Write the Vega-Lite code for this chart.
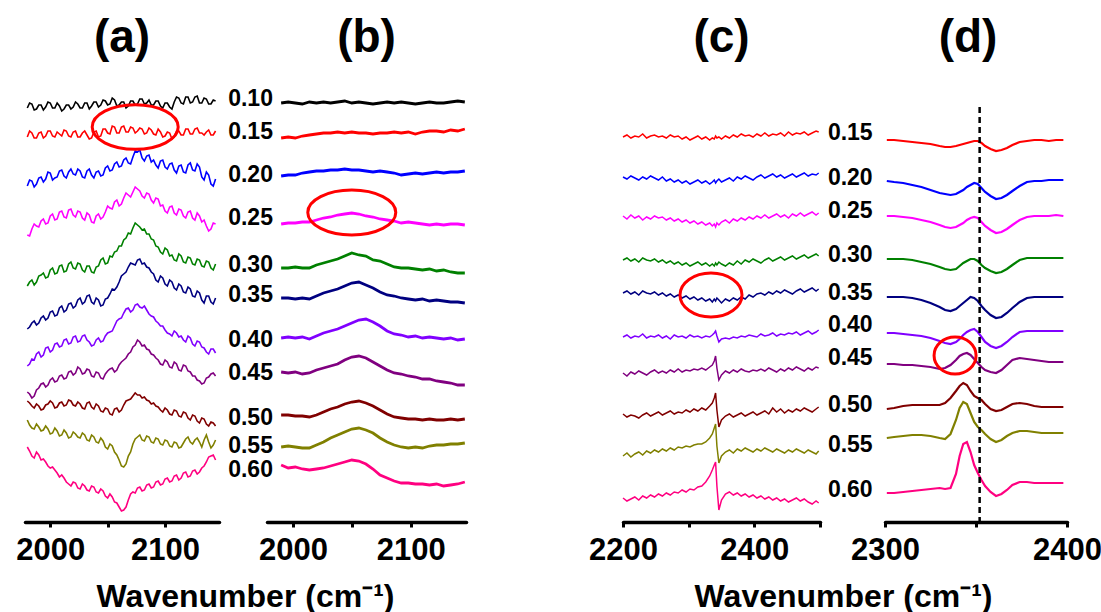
{
"$schema":"https://vega.github.io/schema/vega-lite/v6.json",
"autosize":{"type":"pad"},
"padding":{"left":15,"top":15,"right":5,"bottom":0},
"background":"white",
"config":{"view":{"stroke":null},
"axis":{"domainColor":"#000","domainWidth":3.5,"domainCap":"round","tickColor":"#000","tickWidth":3,"tickSize":5,"labelFont":"Liberation Sans","labelFontSize":31,"labelFontWeight":"bold","labelColor":"#000","labelPadding":8,"grid":false,"labelFlush":false,"labelOverlap":false,"titleFont":"Liberation Sans","titleFontSize":32,"titleFontWeight":"bold","titleColor":"#000"},
"title":{"font":"Liberation Sans","fontSize":46,"fontWeight":"bold","color":"#000","anchor":"middle","baseline":"alphabetic","offset":13}},
"datasets":{
"a":[
{"x":1980,"s10":414,"s15":385,"s20":336,"s25":287,"s30":236,"s35":193,"s40":156,"s45":130,"s50":121,"s55":102,"s60":75},
{"x":1984,"s10":418,"s15":389,"s20":341,"s25":293,"s30":242,"s35":199,"s40":163,"s45":124,"s50":116,"s55":94,"s60":66},
{"x":1988,"s10":413,"s15":384,"s20":338,"s25":296,"s30":240,"s35":197,"s40":168,"s45":132,"s50":118,"s55":98,"s60":70},
{"x":1992,"s10":417,"s15":390,"s20":345,"s25":301,"s30":247,"s35":204,"s40":165,"s45":138,"s50":112,"s55":91,"s60":62},
{"x":1996,"s10":415,"s15":386,"s20":343,"s25":298,"s30":244,"s35":202,"s40":174,"s45":135,"s50":117,"s55":96,"s60":60},
{"x":2000,"s10":419,"s15":391,"s20":349,"s25":306,"s30":252,"s35":210,"s40":170,"s45":142,"s50":121,"s55":88,"s60":54},
{"x":2004,"s10":414,"s15":385,"s20":344,"s25":302,"s30":248,"s35":206,"s40":178,"s45":140,"s50":114,"s55":94,"s60":52},
{"x":2008,"s10":416,"s15":388,"s20":351,"s25":310,"s30":256,"s35":214,"s40":175,"s45":146,"s50":119,"s55":86,"s60":45},
{"x":2012,"s10":413,"s15":392,"s20":346,"s25":305,"s30":250,"s35":210,"s40":182,"s45":143,"s50":116,"s55":92,"s60":44},
{"x":2016,"s10":417,"s15":386,"s20":350,"s25":312,"s30":258,"s35":218,"s40":178,"s45":150,"s50":122,"s55":84,"s60":38},
{"x":2020,"s10":415,"s15":390,"s20":348,"s25":307,"s30":254,"s35":214,"s40":185,"s45":147,"s50":117,"s55":90,"s60":40},
{"x":2024,"s10":418,"s15":385,"s20":353,"s25":311,"s30":259,"s35":222,"s40":180,"s45":155,"s50":120,"s55":85,"s60":34},
{"x":2028,"s10":414,"s15":389,"s20":345,"s25":304,"s30":252,"s35":218,"s40":186,"s45":148,"s50":114,"s55":89,"s60":38},
{"x":2032,"s10":419,"s15":387,"s20":351,"s25":309,"s30":256,"s35":226,"s40":182,"s45":153,"s50":119,"s55":82,"s60":32},
{"x":2036,"s10":416,"s15":384,"s20":347,"s25":300,"s30":250,"s35":220,"s40":176,"s45":146,"s50":115,"s55":87,"s60":36},
{"x":2040,"s10":420,"s15":391,"s20":350,"s25":306,"s30":255,"s35":224,"s40":182,"s45":150,"s50":118,"s55":80,"s60":30},
{"x":2044,"s10":417,"s15":386,"s20":346,"s25":303,"s30":262,"s35":216,"s40":180,"s45":144,"s50":111,"s55":84,"s60":33},
{"x":2048,"s10":421,"s15":393,"s20":354,"s25":310,"s30":258,"s35":223,"s40":186,"s45":148,"s50":114,"s55":75,"s60":26},
{"x":2052,"s10":418,"s15":388,"s20":351,"s25":314,"s30":266,"s35":228,"s40":190,"s45":153,"s50":108,"s55":78,"s60":28},
{"x":2056,"s10":422,"s15":395,"s20":358,"s25":320,"s30":270,"s35":232,"s40":196,"s45":150,"s50":113,"s55":70,"s60":20},
{"x":2060,"s10":417,"s15":389,"s20":355,"s25":316,"s30":276,"s35":240,"s40":203,"s45":157,"s50":110,"s55":62,"s60":15},
{"x":2064,"s10":420,"s15":396,"s20":362,"s25":324,"s30":282,"s35":248,"s40":209,"s45":162,"s50":117,"s55":55,"s60":12},
{"x":2068,"s10":416,"s15":390,"s20":359,"s25":327,"s30":289,"s35":255,"s40":214,"s45":168,"s50":122,"s55":66,"s60":22},
{"x":2072,"s10":421,"s15":394,"s20":365,"s25":330,"s30":294,"s35":258,"s40":212,"s45":175,"s50":126,"s55":78,"s60":30},
{"x":2076,"s10":418,"s15":391,"s20":370,"s25":333,"s30":297,"s35":262,"s40":218,"s45":182,"s50":127,"s55":85,"s60":34},
{"x":2080,"s10":423,"s15":393,"s20":364,"s25":326,"s30":292,"s35":258,"s40":214,"s45":176,"s50":124,"s55":82,"s60":31},
{"x":2084,"s10":419,"s15":389,"s20":366,"s25":329,"s30":288,"s35":255,"s40":212,"s45":173,"s50":122,"s55":86,"s60":37},
{"x":2088,"s10":417,"s15":392,"s20":360,"s25":322,"s30":283,"s35":250,"s40":206,"s45":168,"s50":118,"s55":80,"s60":34},
{"x":2092,"s10":421,"s15":387,"s20":357,"s25":324,"s30":276,"s35":242,"s40":201,"s45":164,"s50":116,"s55":84,"s60":40},
{"x":2096,"s10":416,"s15":390,"s20":361,"s25":316,"s30":270,"s35":246,"s40":196,"s45":158,"s50":112,"s55":78,"s60":37},
{"x":2100,"s10":419,"s15":386,"s20":355,"s25":311,"s30":274,"s35":238,"s40":192,"s45":162,"s50":114,"s55":82,"s60":43},
{"x":2104,"s10":415,"s15":389,"s20":358,"s25":315,"s30":266,"s35":242,"s40":188,"s45":155,"s50":108,"s55":76,"s60":40},
{"x":2108,"s10":420,"s15":385,"s20":352,"s25":309,"s30":262,"s35":234,"s40":191,"s45":160,"s50":112,"s55":80,"s60":46},
{"x":2112,"s10":424,"s15":391,"s20":356,"s25":313,"s30":268,"s35":238,"s40":185,"s45":152,"s50":106,"s55":74,"s60":42},
{"x":2116,"s10":418,"s15":387,"s20":350,"s25":306,"s30":260,"s35":230,"s40":182,"s45":157,"s50":110,"s55":79,"s60":49},
{"x":2120,"s10":425,"s15":393,"s20":357,"s25":310,"s30":265,"s35":235,"s40":186,"s45":151,"s50":104,"s55":85,"s60":45},
{"x":2124,"s10":420,"s15":388,"s20":352,"s25":304,"s30":258,"s35":226,"s40":178,"s45":146,"s50":107,"s55":78,"s60":51},
{"x":2128,"s10":426,"s15":394,"s20":358,"s25":309,"s30":263,"s35":231,"s40":181,"s45":142,"s50":101,"s55":84,"s60":48},
{"x":2132,"s10":419,"s15":389,"s20":345,"s25":300,"s30":256,"s35":222,"s40":175,"s45":138,"s50":104,"s55":75,"s60":54},
{"x":2136,"s10":423,"s15":390,"s20":350,"s25":296,"s30":261,"s35":226,"s40":170,"s45":144,"s50":98,"s55":87,"s60":60},
{"x":2140,"s10":418,"s15":387,"s20":338,"s25":293,"s30":254,"s35":220,"s40":173,"s45":148,"s50":100,"s55":74,"s60":66},
{"x":2144,"s10":421,"s15":391,"s20":343,"s25":298,"s30":258,"s35":224,"s40":169,"s45":146,"s50":96,"s55":82,"s60":62},
{"x":1982,"s10":419,"s15":391,"s20":342,"s25":286,"s30":240,"s35":195,"s40":158,"s45":128,"s50":119,"s55":97,"s60":71},
{"x":1986,"s10":412,"s15":384,"s20":335,"s25":298,"s30":237,"s35":201,"s40":162,"s45":126,"s50":114,"s55":93,"s60":64},
{"x":1990,"s10":417,"s15":389,"s20":344,"s25":295,"s30":246,"s35":199,"s40":170,"s45":134,"s50":116,"s55":95,"s60":67},
{"x":1994,"s10":412,"s15":384,"s20":340,"s25":303,"s30":249,"s35":206,"s40":167,"s45":139,"s50":113,"s55":92,"s60":63},
{"x":1998,"s10":420,"s15":391,"s20":350,"s25":299,"s30":245,"s35":204,"s40":175,"s45":137,"s50":118,"s55":93,"s60":56},
{"x":2002,"s10":414,"s15":386,"s20":342,"s25":308,"s30":254,"s35":211,"s40":172,"s45":144,"s50":119,"s55":89,"s60":55},
{"x":2006,"s10":419,"s15":390,"s20":345,"s25":303,"s30":249,"s35":207,"s40":179,"s45":141,"s50":115,"s55":91,"s60":49},
{"x":2010,"s10":411,"s15":386,"s20":352,"s25":311,"s30":257,"s35":216,"s40":176,"s45":147,"s50":120,"s55":87,"s60":47},
{"x":2014,"s10":417,"s15":391,"s20":344,"s25":304,"s30":251,"s35":212,"s40":183,"s45":144,"s50":117,"s55":89,"s60":40},
{"x":2018,"s10":413,"s15":385,"s20":353,"s25":313,"s30":260,"s35":219,"s40":179,"s45":151,"s50":121,"s55":85,"s60":36},
{"x":2022,"s10":420,"s15":391,"s20":347,"s25":305,"s30":253,"s35":216,"s40":186,"s45":149,"s50":116,"s55":88,"s60":39},
{"x":2026,"s10":414,"s15":385,"s20":351,"s25":310,"s30":258,"s35":224,"s40":181,"s45":153,"s50":118,"s55":84,"s60":33},
{"x":2030,"s10":419,"s15":391,"s20":344,"s25":302,"s30":250,"s35":220,"s40":187,"s45":149,"s50":113,"s55":87,"s60":36},
{"x":2034,"s10":413,"s15":383,"s20":353,"s25":307,"s30":256,"s35":227,"s40":180,"s45":152,"s50":120,"s55":81,"s60":31},
{"x":2038,"s10":420,"s15":390,"s20":344,"s25":299,"s30":249,"s35":218,"s40":177,"s45":145,"s50":113,"s55":85,"s60":35},
{"x":2042,"s10":415,"s15":385,"s20":351,"s25":308,"s30":256,"s35":222,"s40":184,"s45":149,"s50":116,"s55":79,"s60":29},
{"x":2046,"s10":422,"s15":393,"s20":347,"s25":305,"s30":264,"s35":217,"s40":181,"s45":143,"s50":110,"s55":81,"s60":31},
{"x":2050,"s10":417,"s15":389,"s20":356,"s25":316,"s30":259,"s35":224,"s40":189,"s45":151,"s50":113,"s55":73,"s60":24},
{"x":2054,"s10":424,"s15":396,"s20":352,"s25":313,"s30":265,"s35":233,"s40":191,"s45":154,"s50":107,"s55":76,"s60":25},
{"x":2058,"s10":416,"s15":389,"s20":360,"s25":322,"s30":271,"s35":235,"s40":201,"s45":152,"s50":114,"s55":67,"s60":19},
{"x":2062,"s10":420,"s15":395,"s20":356,"s25":318,"s30":276,"s35":246,"s40":204,"s45":160,"s50":112,"s55":56,"s60":11},
{"x":2066,"s10":414,"s15":390,"s20":364,"s25":329,"s30":284,"s35":250,"s40":213,"s45":164,"s50":121,"s55":58,"s60":15},
{"x":2070,"s10":421,"s15":395,"s20":358,"s25":325,"s30":288,"s35":259,"s40":210,"s45":170,"s50":123,"s55":70,"s60":28},
{"x":2074,"s10":417,"s15":389,"s20":371,"s25":335,"s30":299,"s35":257,"s40":217,"s45":177,"s50":129,"s55":83,"s60":29},
{"x":2078,"s10":423,"s15":394,"s20":372,"s25":331,"s30":295,"s35":263,"s40":215,"s45":180,"s50":127,"s55":87,"s60":35},
{"x":2082,"s10":418,"s15":388,"s20":361,"s25":324,"s30":293,"s35":259,"s40":216,"s45":177,"s50":125,"s55":81,"s60":32},
{"x":2086,"s10":422,"s15":394,"s20":367,"s25":328,"s30":288,"s35":254,"s40":208,"s45":172,"s50":121,"s55":85,"s60":38},
{"x":2090,"s10":417,"s15":388,"s20":362,"s25":319,"s30":282,"s35":248,"s40":205,"s45":167,"s50":119,"s55":79,"s60":35},
{"x":2094,"s10":421,"s15":393,"s20":354,"s25":323,"s30":275,"s35":240,"s40":199,"s45":162,"s50":115,"s55":83,"s60":41},
{"x":2098,"s10":414,"s15":385,"s20":362,"s25":317,"s30":268,"s35":244,"s40":196,"s45":157,"s50":110,"s55":77,"s60":38},
{"x":2102,"s10":419,"s15":390,"s20":353,"s25":309,"s30":272,"s35":236,"s40":189,"s45":160,"s50":112,"s55":81,"s60":44},
{"x":2106,"s10":413,"s15":383,"s20":359,"s25":316,"s30":267,"s35":240,"s40":186,"s45":154,"s50":107,"s55":75,"s60":41},
{"x":2110,"s10":425,"s15":391,"s20":349,"s25":307,"s30":261,"s35":232,"s40":189,"s45":158,"s50":111,"s55":79,"s60":47},
{"x":2114,"s10":419,"s15":387,"s20":357,"s25":312,"s30":266,"s35":236,"s40":186,"s45":151,"s50":105,"s55":75,"s60":44},
{"x":2118,"s10":425,"s15":393,"s20":349,"s25":304,"s30":259,"s35":229,"s40":180,"s45":156,"s50":109,"s55":83,"s60":50},
{"x":2122,"s10":419,"s15":388,"s20":359,"s25":311,"s30":264,"s35":233,"s40":184,"s45":150,"s50":102,"s55":80,"s60":46},
{"x":2126,"s10":425,"s15":393,"s20":351,"s25":302,"s30":257,"s35":225,"s40":176,"s45":146,"s50":106,"s55":82,"s60":52},
{"x":2130,"s10":419,"s15":389,"s20":355,"s25":306,"s30":262,"s35":229,"s40":180,"s45":141,"s50":99,"s55":80,"s60":50},
{"x":2134,"s10":424,"s15":387,"s20":342,"s25":302,"s30":255,"s35":219,"s40":174,"s45":139,"s50":103,"s55":82,"s60":56},
{"x":2138,"s10":418,"s15":392,"s20":347,"s25":291,"s30":260,"s35":226,"s40":168,"s45":145,"s50":96,"s55":80,"s60":65},
{"x":2142,"s10":422,"s15":387,"s20":336,"s25":299,"s30":252,"s35":218,"s40":173,"s45":149,"s50":99,"s55":77,"s60":67}
],
"b":[
{"x":1990,"s10":419,"s15":384,"s20":346,"s25":298,"s30":254,"s35":224,"s40":184,"s45":150,"s50":107,"s55":75,"s60":57},
{"x":1996,"s10":420,"s15":385,"s20":347,"s25":299,"s30":254,"s35":224,"s40":185,"s45":149,"s50":107,"s55":76,"s60":54},
{"x":2002,"s10":419,"s15":384,"s20":347,"s25":299,"s30":255,"s35":223,"s40":184,"s45":150,"s50":106,"s55":75,"s60":55},
{"x":2008,"s10":418,"s15":386,"s20":349,"s25":300,"s30":254,"s35":224,"s40":185,"s45":148,"s50":106,"s55":74,"s60":53},
{"x":2014,"s10":420,"s15":387,"s20":350,"s25":300,"s30":254,"s35":223,"s40":183,"s45":149,"s50":105,"s55":74,"s60":52},
{"x":2020,"s10":419,"s15":388,"s20":351,"s25":302,"s30":257,"s35":226,"s40":186,"s45":152,"s50":107,"s55":77,"s60":53},
{"x":2026,"s10":420,"s15":389,"s20":351,"s25":304,"s30":259,"s35":229,"s40":189,"s45":154,"s50":110,"s55":80,"s60":54},
{"x":2032,"s10":419,"s15":389,"s20":352,"s25":305,"s30":261,"s35":231,"s40":191,"s45":156,"s50":113,"s55":84,"s60":56},
{"x":2038,"s10":420,"s15":390,"s20":352,"s25":307,"s30":263,"s35":233,"s40":193,"s45":158,"s50":115,"s55":87,"s60":58},
{"x":2044,"s10":421,"s15":389,"s20":353,"s25":308,"s30":266,"s35":236,"s40":196,"s45":162,"s50":118,"s55":90,"s60":60},
{"x":2050,"s10":419,"s15":390,"s20":352,"s25":309,"s30":269,"s35":239,"s40":199,"s45":165,"s50":120,"s55":93,"s60":62},
{"x":2056,"s10":420,"s15":389,"s20":352,"s25":308,"s30":267,"s35":240,"s40":202,"s45":166,"s50":121,"s55":94,"s60":61},
{"x":2062,"s10":419,"s15":389,"s20":351,"s25":306,"s30":266,"s35":237,"s40":203,"s45":164,"s50":119,"s55":92,"s60":58},
{"x":2068,"s10":418,"s15":388,"s20":350,"s25":305,"s30":262,"s35":234,"s40":200,"s45":160,"s50":116,"s55":89,"s60":53},
{"x":2074,"s10":419,"s15":389,"s20":351,"s25":303,"s30":261,"s35":230,"s40":196,"s45":156,"s50":112,"s55":84,"s60":47},
{"x":2080,"s10":420,"s15":389,"s20":350,"s25":302,"s30":258,"s35":227,"s40":191,"s45":152,"s50":108,"s55":80,"s60":44},
{"x":2086,"s10":419,"s15":390,"s20":349,"s25":301,"s30":255,"s35":226,"s40":188,"s45":149,"s50":105,"s55":77,"s60":41},
{"x":2092,"s10":420,"s15":389,"s20":347,"s25":299,"s30":254,"s35":224,"s40":187,"s45":148,"s50":104,"s55":75,"s60":39},
{"x":2098,"s10":419,"s15":390,"s20":348,"s25":300,"s30":254,"s35":223,"s40":185,"s45":146,"s50":103,"s55":74,"s60":39},
{"x":2104,"s10":418,"s15":388,"s20":349,"s25":299,"s30":253,"s35":222,"s40":186,"s45":145,"s50":103,"s55":75,"s60":38},
{"x":2110,"s10":419,"s15":390,"s20":348,"s25":298,"s30":252,"s35":223,"s40":184,"s45":143,"s50":102,"s55":74,"s60":38},
{"x":2116,"s10":420,"s15":391,"s20":349,"s25":297,"s30":253,"s35":221,"s40":185,"s45":143,"s50":103,"s55":76,"s60":37},
{"x":2122,"s10":419,"s15":391,"s20":350,"s25":298,"s30":251,"s35":222,"s40":184,"s45":141,"s50":102,"s55":77,"s60":38},
{"x":2128,"s10":419,"s15":390,"s20":349,"s25":297,"s30":252,"s35":221,"s40":183,"s45":140,"s50":102,"s55":77,"s60":36},
{"x":2134,"s10":420,"s15":392,"s20":350,"s25":298,"s30":250,"s35":220,"s40":184,"s45":139,"s50":103,"s55":78,"s60":37},
{"x":2140,"s10":421,"s15":391,"s20":350,"s25":298,"s30":249,"s35":220,"s40":182,"s45":137,"s50":102,"s55":78,"s60":38},
{"x":2146,"s10":420,"s15":393,"s20":351,"s25":297,"s30":249,"s35":219,"s40":183,"s45":137,"s50":103,"s55":79,"s60":40}
],
"c":[
{"x":2200,"s15":385,"s20":345,"s25":306,"s30":262,"s35":229,"s40":185,"s45":149,"s50":108,"s55":66,"s60":24},
{"x":2206,"s15":387,"s20":343,"s25":303,"s30":264,"s35":231,"s40":187,"s45":146,"s50":105,"s55":69,"s60":21},
{"x":2212,"s15":384,"s20":346,"s25":307,"s30":261,"s35":228,"s40":184,"s45":150,"s50":107,"s55":65,"s60":23},
{"x":2218,"s15":386,"s20":344,"s25":304,"s30":263,"s35":230,"s40":186,"s45":148,"s50":106,"s55":68,"s60":25},
{"x":2224,"s15":385,"s20":342,"s25":306,"s30":260,"s35":227,"s40":185,"s45":151,"s50":104,"s55":70,"s60":22},
{"x":2230,"s15":388,"s20":345,"s25":302,"s30":264,"s35":231,"s40":188,"s45":149,"s50":107,"s55":67,"s60":26},
{"x":2236,"s15":384,"s20":343,"s25":305,"s30":262,"s35":229,"s40":184,"s45":147,"s50":109,"s55":71,"s60":24},
{"x":2242,"s15":386,"s20":346,"s25":303,"s30":261,"s35":228,"s40":186,"s45":150,"s50":106,"s55":69,"s60":27},
{"x":2248,"s15":387,"s20":344,"s25":306,"s30":263,"s35":230,"s40":185,"s45":152,"s50":108,"s55":72,"s60":25},
{"x":2254,"s15":385,"s20":342,"s25":304,"s30":260,"s35":227,"s40":187,"s45":149,"s50":110,"s55":70,"s60":28},
{"x":2260,"s15":386,"s20":345,"s25":305,"s30":262,"s35":229,"s40":184,"s45":151,"s50":107,"s55":73,"s60":26},
{"x":2266,"s15":384,"s20":341,"s25":302,"s30":259,"s35":226,"s40":186,"s45":149,"s50":109,"s55":71,"s60":29},
{"x":2272,"s15":387,"s20":343,"s25":304,"s30":261,"s35":228,"s40":183,"s45":152,"s50":111,"s55":74,"s60":27},
{"x":2278,"s15":385,"s20":340,"s25":301,"s30":258,"s35":225,"s40":187,"s45":150,"s50":108,"s55":72,"s60":30},
{"x":2284,"s15":386,"s20":342,"s25":303,"s30":260,"s35":227,"s40":185,"s45":153,"s50":110,"s55":75,"s60":29},
{"x":2290,"s15":383,"s20":339,"s25":300,"s30":257,"s35":224,"s40":186,"s45":150,"s50":109,"s55":74,"s60":32},
{"x":2296,"s15":385,"s20":341,"s25":302,"s30":259,"s35":226,"s40":184,"s45":152,"s50":112,"s55":76,"s60":30},
{"x":2302,"s15":382,"s20":338,"s25":299,"s30":256,"s35":223,"s40":187,"s45":151,"s50":110,"s55":75,"s60":33},
{"x":2308,"s15":384,"s20":340,"s25":301,"s30":258,"s35":225,"s40":185,"s45":153,"s50":113,"s55":77,"s60":32},
{"x":2314,"s15":386,"s20":342,"s25":298,"s30":260,"s35":222,"s40":186,"s45":152,"s50":111,"s55":78,"s60":35},
{"x":2320,"s15":383,"s20":339,"s25":300,"s30":257,"s35":224,"s40":184,"s45":154,"s50":114,"s55":78,"s60":36},
{"x":2326,"s15":385,"s20":341,"s25":297,"s30":259,"s35":221,"s40":186,"s45":152,"s50":112,"s55":80,"s60":40},
{"x":2332,"s15":382,"s20":338,"s25":299,"s30":256,"s35":223,"s40":185,"s45":155,"s50":116,"s55":84,"s60":46},
{"x":2336,"s15":384,"s20":340,"s25":296,"s30":258,"s35":220,"s40":187,"s45":157,"s50":119,"s55":88,"s60":52},
{"x":2339,"s15":383,"s20":342,"s25":298,"s30":256,"s35":223,"s40":189,"s45":161,"s50":124,"s55":94,"s60":57},
{"x":2341,"s15":386,"s20":339,"s25":295,"s30":259,"s35":221,"s40":191,"s45":166,"s50":129,"s55":98,"s60":60},
{"x":2343,"s15":384,"s20":341,"s25":299,"s30":257,"s35":224,"s40":186,"s45":154,"s50":112,"s55":76,"s60":36},
{"x":2346,"s15":385,"s20":343,"s25":297,"s30":260,"s35":222,"s40":180,"s45":142,"s50":95,"s55":59,"s60":12},
{"x":2350,"s15":383,"s20":340,"s25":300,"s30":258,"s35":219,"s40":183,"s45":147,"s50":102,"s55":66,"s60":22},
{"x":2356,"s15":386,"s20":342,"s25":302,"s30":256,"s35":223,"s40":184,"s45":151,"s50":106,"s55":70,"s60":28},
{"x":2362,"s15":384,"s20":344,"s25":299,"s30":259,"s35":221,"s40":183,"s45":149,"s50":108,"s55":72,"s60":30},
{"x":2368,"s15":387,"s20":341,"s25":303,"s30":257,"s35":224,"s40":185,"s45":152,"s50":105,"s55":69,"s60":27},
{"x":2374,"s15":385,"s20":345,"s25":301,"s30":261,"s35":222,"s40":184,"s45":150,"s50":107,"s55":73,"s60":29},
{"x":2380,"s15":388,"s20":343,"s25":304,"s30":258,"s35":225,"s40":186,"s45":153,"s50":109,"s55":71,"s60":26},
{"x":2386,"s15":386,"s20":346,"s25":302,"s30":262,"s35":223,"s40":185,"s45":151,"s50":106,"s55":74,"s60":28},
{"x":2392,"s15":387,"s20":344,"s25":305,"s30":260,"s35":227,"s40":187,"s45":150,"s50":108,"s55":72,"s60":25},
{"x":2398,"s15":385,"s20":342,"s25":303,"s30":263,"s35":225,"s40":186,"s45":152,"s50":110,"s55":70,"s60":27},
{"x":2404,"s15":388,"s20":345,"s25":306,"s30":261,"s35":228,"s40":185,"s45":151,"s50":107,"s55":73,"s60":24},
{"x":2410,"s15":386,"s20":347,"s25":304,"s30":259,"s35":229,"s40":188,"s45":153,"s50":109,"s55":71,"s60":26},
{"x":2416,"s15":389,"s20":344,"s25":307,"s30":262,"s35":227,"s40":186,"s45":151,"s50":111,"s55":74,"s60":23},
{"x":2422,"s15":386,"s20":346,"s25":304,"s30":264,"s35":230,"s40":187,"s45":154,"s50":108,"s55":72,"s60":25},
{"x":2428,"s15":388,"s20":348,"s25":306,"s30":261,"s35":228,"s40":189,"s45":152,"s50":114,"s55":70,"s60":22},
{"x":2434,"s15":387,"s20":345,"s25":308,"s30":263,"s35":231,"s40":186,"s45":150,"s50":110,"s55":73,"s60":24},
{"x":2440,"s15":389,"s20":347,"s25":305,"s30":265,"s35":229,"s40":188,"s45":153,"s50":113,"s55":71,"s60":21},
{"x":2446,"s15":386,"s20":344,"s25":307,"s30":262,"s35":232,"s40":187,"s45":151,"s50":109,"s55":69,"s60":23},
{"x":2452,"s15":390,"s20":346,"s25":304,"s30":264,"s35":230,"s40":189,"s45":154,"s50":112,"s55":72,"s60":20},
{"x":2458,"s15":387,"s20":348,"s25":308,"s30":266,"s35":228,"s40":188,"s45":152,"s50":110,"s55":70,"s60":22},
{"x":2464,"s15":389,"s20":345,"s25":306,"s30":263,"s35":231,"s40":190,"s45":155,"s50":113,"s55":73,"s60":24},
{"x":2470,"s15":388,"s20":347,"s25":309,"s30":265,"s35":233,"s40":187,"s45":153,"s50":111,"s55":71,"s60":21},
{"x":2476,"s15":390,"s20":349,"s25":306,"s30":267,"s35":230,"s40":189,"s45":151,"s50":114,"s55":69,"s60":23},
{"x":2482,"s15":387,"s20":346,"s25":308,"s30":264,"s35":232,"s40":191,"s45":154,"s50":112,"s55":72,"s60":20},
{"x":2488,"s15":389,"s20":348,"s25":310,"s30":266,"s35":234,"s40":188,"s45":152,"s50":110,"s55":70,"s60":18},
{"x":2494,"s15":391,"s20":347,"s25":307,"s30":268,"s35":231,"s40":190,"s45":155,"s50":113,"s55":68,"s60":21},
{"x":2498,"s15":390,"s20":349,"s25":309,"s30":266,"s35":233,"s40":192,"s45":154,"s50":115,"s55":71,"s60":19}
],
"d":[
{"x":2301,"s15":382,"s20":341,"s25":306,"s30":263,"s35":225,"s40":189,"s45":158,"s50":113,"s55":84,"s60":29},
{"x":2305,"s15":382,"s20":340,"s25":306,"s30":263,"s35":225,"s40":189,"s45":158,"s50":114,"s55":85,"s60":29},
{"x":2310,"s15":381,"s20":339,"s25":305,"s30":263,"s35":225,"s40":188,"s45":157,"s50":116,"s55":86,"s60":30},
{"x":2315,"s15":380,"s20":337,"s25":304,"s30":262,"s35":224,"s40":187,"s45":157,"s50":117,"s55":87,"s60":31},
{"x":2320,"s15":379,"s20":335,"s25":302,"s30":260,"s35":222,"s40":186,"s45":156,"s50":117,"s55":87,"s60":32},
{"x":2325,"s15":378,"s20":332,"s25":300,"s30":258,"s35":219,"s40":184,"s45":155,"s50":117,"s55":86,"s60":33},
{"x":2330,"s15":376,"s20":329,"s25":297,"s30":255,"s35":215,"s40":181,"s45":153,"s50":117,"s55":84,"s60":34},
{"x":2333,"s15":375,"s20":328,"s25":295,"s30":253,"s35":212,"s40":179,"s45":154,"s50":119,"s55":83,"s60":33},
{"x":2336,"s15":375,"s20":327,"s25":294,"s30":252,"s35":211,"s40":178,"s45":157,"s50":124,"s55":88,"s60":34},
{"x":2339,"s15":376,"s20":328,"s25":295,"s30":253,"s35":213,"s40":180,"s45":162,"s50":131,"s55":102,"s60":48},
{"x":2341,"s15":377,"s20":330,"s25":297,"s30":256,"s35":216,"s40":183,"s45":166,"s50":136,"s55":114,"s60":66},
{"x":2343,"s15":378,"s20":332,"s25":299,"s30":259,"s35":219,"s40":187,"s45":168,"s50":139,"s55":120,"s60":78},
{"x":2345,"s15":379,"s20":335,"s25":302,"s30":261,"s35":222,"s40":190,"s45":169,"s50":137,"s55":118,"s60":80},
{"x":2347,"s15":380,"s20":337,"s25":304,"s30":263,"s35":225,"s40":192,"s45":167,"s50":131,"s55":109,"s60":70},
{"x":2349,"s15":381,"s20":339,"s25":305,"s30":263,"s35":224,"s40":193,"s45":163,"s50":126,"s55":100,"s60":57},
{"x":2351,"s15":381,"s20":338,"s25":304,"s30":261,"s35":221,"s40":190,"s45":159,"s50":124,"s55":95,"s60":49},
{"x":2353,"s15":379,"s20":334,"s25":300,"s30":257,"s35":216,"s40":185,"s45":155,"s50":122,"s55":92,"s60":42},
{"x":2355,"s15":376,"s20":330,"s25":296,"s30":254,"s35":212,"s40":180,"s45":152,"s50":118,"s55":88,"s60":36},
{"x":2358,"s15":373,"s20":326,"s25":292,"s30":251,"s35":207,"s40":176,"s45":150,"s50":113,"s55":83,"s60":30},
{"x":2361,"s15":371,"s20":323,"s25":289,"s30":249,"s35":204,"s40":174,"s45":149,"s50":111,"s55":80,"s60":26},
{"x":2364,"s15":372,"s20":324,"s25":290,"s30":250,"s35":205,"s40":176,"s45":152,"s50":112,"s55":82,"s60":28},
{"x":2367,"s15":374,"s20":327,"s25":293,"s30":253,"s35":209,"s40":180,"s45":157,"s50":115,"s55":86,"s60":32},
{"x":2370,"s15":377,"s20":331,"s25":297,"s30":257,"s35":214,"s40":185,"s45":162,"s50":118,"s55":89,"s60":37},
{"x":2374,"s15":380,"s20":336,"s25":302,"s30":262,"s35":220,"s40":190,"s45":164,"s50":119,"s55":91,"s60":40},
{"x":2378,"s15":381,"s20":340,"s25":305,"s30":264,"s35":224,"s40":191,"s45":163,"s50":118,"s55":91,"s60":40},
{"x":2382,"s15":382,"s20":341,"s25":306,"s30":264,"s35":225,"s40":191,"s45":162,"s50":116,"s55":90,"s60":39},
{"x":2386,"s15":382,"s20":341,"s25":306,"s30":264,"s35":225,"s40":191,"s45":161,"s50":115,"s55":89,"s60":39},
{"x":2390,"s15":381,"s20":342,"s25":306,"s30":264,"s35":225,"s40":191,"s45":160,"s50":115,"s55":89,"s60":39},
{"x":2394,"s15":382,"s20":342,"s25":307,"s30":264,"s35":225,"s40":191,"s45":160,"s50":115,"s55":89,"s60":39},
{"x":2398,"s15":382,"s20":342,"s25":306,"s30":264,"s35":225,"s40":191,"s45":160,"s50":115,"s55":89,"s60":39}
],
"labAB":[{"lab":"0.10","y":423},{"lab":"0.15","y":390},{"lab":"0.20","y":347},{"lab":"0.25","y":304},{"lab":"0.30","y":257},{"lab":"0.35","y":227},{"lab":"0.40","y":182},{"lab":"0.45","y":149},{"lab":"0.50","y":104},{"lab":"0.55","y":76},{"lab":"0.60","y":52}],
"labCD":[{"lab":"0.15","y":389},{"lab":"0.20","y":344},{"lab":"0.25","y":311},{"lab":"0.30","y":267},{"lab":"0.35","y":229},{"lab":"0.40","y":197},{"lab":"0.45","y":164},{"lab":"0.50","y":117},{"lab":"0.55","y":77},{"lab":"0.60","y":32}],
"blank":[{"n":0}]
},
"spacing":0,
"bounds":"flush",
"hconcat":[
{"width":194,"height":447,"title":{"text":"(a)"},
"layer":[
{"data":{"name":"a"},"transform":[{"fold":["s10","s15","s20","s25","s30","s35","s40","s45","s50","s55","s60"],"as":["key","v"]}],
"mark":{"type":"line","strokeWidth":1.6},
"encoding":{"x":{"field":"x","type":"quantitative","scale":{"domain":[1978,2147],"nice":false,"zero":false},"axis":{"values":[2000,2050,2100],"format":"d","labelExpr":"datum.value == 2050 ? '' : datum.label","title":"Wavenumber (cm⁻¹)","titleX":220,"titleY":84,"titleBaseline":"alphabetic"}},
"y":{"field":"v","type":"quantitative","scale":{"domain":[0,447],"nice":false,"zero":false},"axis":null},
"color":{"field":"key","type":"nominal","scale":{"domain":["s10","s15","s20","s25","s30","s35","s40","s45","s50","s55","s60"],"range":["#000000","#ff0000","#0000ff","#ff00ff","#008000","#000080","#8000ff","#800080","#800000","#808000","#ff0080"]},"legend":null}}},
{"data":{"name":"labAB"},"mark":{"type":"text","align":"left","baseline":"middle","fontSize":23,"fontWeight":"bold","font":"Liberation Sans","color":"#000"},
"encoding":{"x":{"datum":2155,"type":"quantitative"},"y":{"field":"y","type":"quantitative"},"text":{"field":"lab"}}},
{"data":{"values":[{"x":2074,"y":395}]},"mark":{"type":"point","shape":"M-1 0A1 0.52 0 1 1 1 0A1 0.52 0 1 1 -1 0Z","size":7396,"filled":false,"stroke":"#ff0000","strokeWidth":3,"opacity":1},
"encoding":{"x":{"field":"x","type":"quantitative"},"y":{"field":"y","type":"quantitative"}}}
]},
{"width":48,"height":447,"data":{"name":"blank"},"mark":{"type":"point","opacity":0},"encoding":{}},
{"width":199,"height":447,"title":{"text":"(b)"},
"layer":[
{"data":{"name":"b"},"transform":[{"fold":["s10","s15","s20","s25","s30","s35","s40","s45","s50","s55","s60"],"as":["key","v"]}],
"mark":{"type":"line","strokeWidth":2.8},
"encoding":{"x":{"field":"x","type":"quantitative","scale":{"domain":[1978,2147],"nice":false,"zero":false},"axis":{"values":[2000,2050,2100],"format":"d","labelExpr":"datum.value == 2050 ? '' : datum.label","title":null}},
"y":{"field":"v","type":"quantitative","scale":{"domain":[0,447],"nice":false,"zero":false},"axis":null},
"color":{"field":"key","type":"nominal","scale":{"domain":["s10","s15","s20","s25","s30","s35","s40","s45","s50","s55","s60"],"range":["#000000","#ff0000","#0000ff","#ff00ff","#008000","#000080","#8000ff","#800080","#800000","#808000","#ff0080"]},"legend":null}}},
{"data":{"values":[{"x":2050,"y":309.5}]},"mark":{"type":"point","shape":"M-1 0A1 0.51 0 1 1 1 0A1 0.51 0 1 1 -1 0Z","size":7744,"filled":false,"stroke":"#ff0000","strokeWidth":3,"opacity":1},
"encoding":{"x":{"field":"x","type":"quantitative"},"y":{"field":"y","type":"quantitative"}}}
]},
{"width":157,"height":447,"data":{"name":"blank"},"mark":{"type":"point","opacity":0},"encoding":{}},
{"width":197,"height":447,"title":{"text":"(c)"},
"layer":[
{"data":{"name":"c"},"transform":[{"fold":["s15","s20","s25","s30","s35","s40","s45","s50","s55","s60"],"as":["key","v"]}],
"mark":{"type":"line","strokeWidth":1.5},
"encoding":{"x":{"field":"x","type":"quantitative","scale":{"domain":[2200,2500],"nice":false,"zero":false},"axis":{"values":[2200,2300,2400,2500],"format":"d","labelExpr":"datum.value == 2300 || datum.value == 2500 ? '' : datum.label","title":"Wavenumber (cm⁻¹)","titleX":220,"titleY":84,"titleBaseline":"alphabetic"}},
"y":{"field":"v","type":"quantitative","scale":{"domain":[0,447],"nice":false,"zero":false},"axis":null},
"color":{"field":"key","type":"nominal","scale":{"domain":["s10","s15","s20","s25","s30","s35","s40","s45","s50","s55","s60"],"range":["#000000","#ff0000","#0000ff","#ff00ff","#008000","#000080","#8000ff","#800080","#800000","#808000","#ff0080"]},"legend":null}}},
{"data":{"name":"labCD"},"mark":{"type":"text","align":"left","baseline":"middle","fontSize":23,"fontWeight":"bold","font":"Liberation Sans","color":"#000"},
"encoding":{"x":{"datum":2512,"type":"quantitative"},"y":{"field":"y","type":"quantitative"},"text":{"field":"lab"}}},
{"data":{"values":[{"x":2334,"y":227}]},"mark":{"type":"point","shape":"M-1 0A1 0.71 0 1 1 1 0A1 0.71 0 1 1 -1 0Z","size":3844,"filled":false,"stroke":"#ff0000","strokeWidth":3,"opacity":1},
"encoding":{"x":{"field":"x","type":"quantitative"},"y":{"field":"y","type":"quantitative"}}}
]},
{"width":65,"height":447,"data":{"name":"blank"},"mark":{"type":"point","opacity":0},"encoding":{}},
{"width":182,"height":447,"title":{"text":"(d)","dx":-8},
"layer":[
{"data":{"name":"d"},"transform":[{"fold":["s15","s20","s25","s30","s35","s40","s45","s50","s55","s60"],"as":["key","v"]}],
"mark":{"type":"line","strokeWidth":2.2},
"encoding":{"x":{"field":"x","type":"quantitative","scale":{"domain":[2300,2400],"nice":false,"zero":false},"axis":{"values":[2300,2350,2400],"format":"d","labelExpr":"datum.value == 2350 ? '' : datum.label","title":null}},
"y":{"field":"v","type":"quantitative","scale":{"domain":[0,447],"nice":false,"zero":false},"axis":null},
"color":{"field":"key","type":"nominal","scale":{"domain":["s10","s15","s20","s25","s30","s35","s40","s45","s50","s55","s60"],"range":["#000000","#ff0000","#0000ff","#ff00ff","#008000","#000080","#8000ff","#800080","#800000","#808000","#ff0080"]},"legend":null}}},
{"data":{"values":[{"x":2352,"y":415,"y2":0}]},"mark":{"type":"rule","strokeDash":[6,4],"strokeWidth":2.5,"color":"#000"},
"encoding":{"x":{"field":"x","type":"quantitative"},"y":{"field":"y","type":"quantitative"},"y2":{"field":"y2"}}},
{"data":{"values":[{"x":2338.5,"y":166.5}]},"mark":{"type":"point","shape":"M-1 0A1 0.88 0 1 1 1 0A1 0.88 0 1 1 -1 0Z","size":1764,"filled":false,"stroke":"#ff0000","strokeWidth":3,"opacity":1},
"encoding":{"x":{"field":"x","type":"quantitative"},"y":{"field":"y","type":"quantitative"}}}
]}
]
}
